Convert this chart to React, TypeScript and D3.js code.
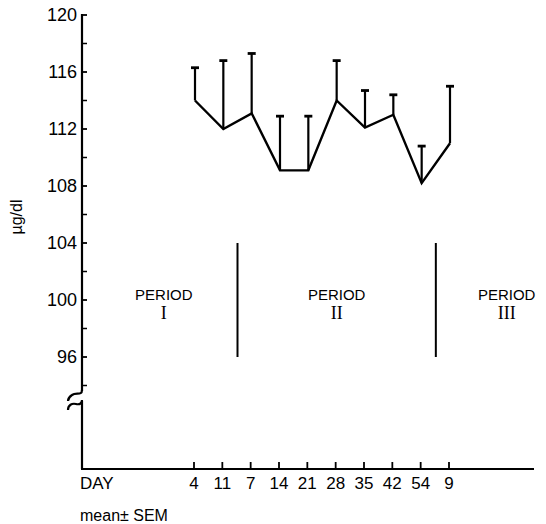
import * as d3 from 'd3';
import React from 'react';

// day labels along the x axis (periods I, II, III)
const days = ["4", "11", "7", "14", "21", "28", "35", "42", "54", "9"];
// mean values, µg/dl
const means = [114, 112, 113.1, 109.1, 109.1, 114, 112.1, 113, 108.2, 111];
// SEM (upper bar only)
const sems = [2.3, 4.8, 4.2, 3.8, 3.8, 2.8, 2.6, 1.4, 2.6, 4.0];
const majorTicks = [96, 100, 104, 108, 112, 116, 120];
const minorTicks = [94, 98, 102, 106, 110, 114, 118];
const periods = ["I", "II", "III"];
const periodPos = [-1.1, 5, 11];   // in day-index units
const dividers = [1.5, 8.5];

const W = 546, H = 524;
const sans = "'Liberation Sans', Arial, sans-serif";
const serif = "'Liberation Serif', 'Times New Roman', serif";

export default function App() {
    const x = d3.scaleLinear().domain([0, 9]).range([195, 450]);
    const y = d3.scaleLinear().domain([96, 120]).range([357, 15]);
    const axisX = 82, baseY = 469;

    const line = d3.line<number>()
        .x((d, i) => x(i))
        .y(d => y(d));

    return (
        <svg width={W} height={H} style={{ position: 'absolute', left: 0, top: 0 }}>
            <rect width={W} height={H} fill="#fff" />
            {/* y axis, upper part */}
            <line x1={axisX} x2={axisX} y1={y(120) - 1} y2={391} stroke="#000" strokeWidth={2.2} />
            {/* break marks */}
            <path d={`M${axisX},390 C${axisX},396 ${axisX - 6},392 ${axisX - 10},395 C${axisX - 13},397 ${axisX - 14},399 ${axisX - 14},401`}
                fill="none" stroke="#000" strokeWidth={2.2} />
            <path d={`M${axisX - 14},410 C${axisX - 14},405 ${axisX - 10},403 ${axisX - 6},404 C${axisX - 2},405 ${axisX},403 ${axisX},400`}
                fill="none" stroke="#000" strokeWidth={2.2} />
            {/* y axis, lower part */}
            <line x1={axisX} x2={axisX} y1={401} y2={baseY} stroke="#000" strokeWidth={2.2} />
            {/* x axis */}
            <line x1={axisX - 1} x2={534} y1={baseY} y2={baseY} stroke="#000" strokeWidth={2.2} />

            {majorTicks.map(t => (
                <g key={t}>
                    <line x1={axisX} x2={axisX + 5} y1={y(t)} y2={y(t)} stroke="#000" strokeWidth={1.8} />
                    <text x={77} y={y(t)} dy="0.36em" textAnchor="end" fontFamily={sans} fontSize={18}>{t}</text>
                </g>
            ))}
            {minorTicks.map(t => (
                <line key={t} x1={axisX} x2={axisX + 5} y1={y(t)} y2={y(t)} stroke="#000" strokeWidth={1.5} />
            ))}

            {days.map((d, i) => (
                <g key={i}>
                    <line x1={x(i) - 1} x2={x(i) - 1} y1={baseY} y2={baseY - 7} stroke="#000" strokeWidth={1.8} />
                    <text x={x(i) - 1} y={489} textAnchor="middle" fontFamily={sans} fontSize={17}>{d}</text>
                </g>
            ))}
            <text x={80} y={489} fontFamily={sans} fontSize={17}>DAY</text>
            <text x={80} y={521} fontFamily={sans} fontSize={16}>mean± SEM</text>
            <text transform="translate(22,217) rotate(-90)" textAnchor="middle" fontFamily={sans} fontSize={16}>µg/dl</text>

            {/* period dividers and labels */}
            {dividers.map((d, i) => (
                <line key={i} x1={x(d)} x2={x(d)} y1={y(104)} y2={y(96)} stroke="#000" strokeWidth={2} />
            ))}
            {periods.map((p, i) => (
                <g key={p}>
                    <text x={x(periodPos[i])} y={y(100)} textAnchor="middle" fontFamily={sans} fontSize={15}>PERIOD</text>
                    <text x={x(periodPos[i])} y={y(100) + 19} textAnchor="middle" fontFamily={serif} fontSize={18}>{p}</text>
                </g>
            ))}

            {/* error bars */}
            {means.map((m, i) => (
                <g key={i} stroke="#000">
                    <line x1={x(i)} x2={x(i)} y1={y(m)} y2={y(m + sems[i])} strokeWidth={2.2} />
                    <line x1={x(i) - 4} x2={x(i) + 4} y1={y(m + sems[i])} y2={y(m + sems[i])} strokeWidth={2.8} />
                </g>
            ))}
            <path d={line(means) ?? ""} fill="none" stroke="#000" strokeWidth={2.4} strokeLinejoin="miter" />
        </svg>
    );
}
